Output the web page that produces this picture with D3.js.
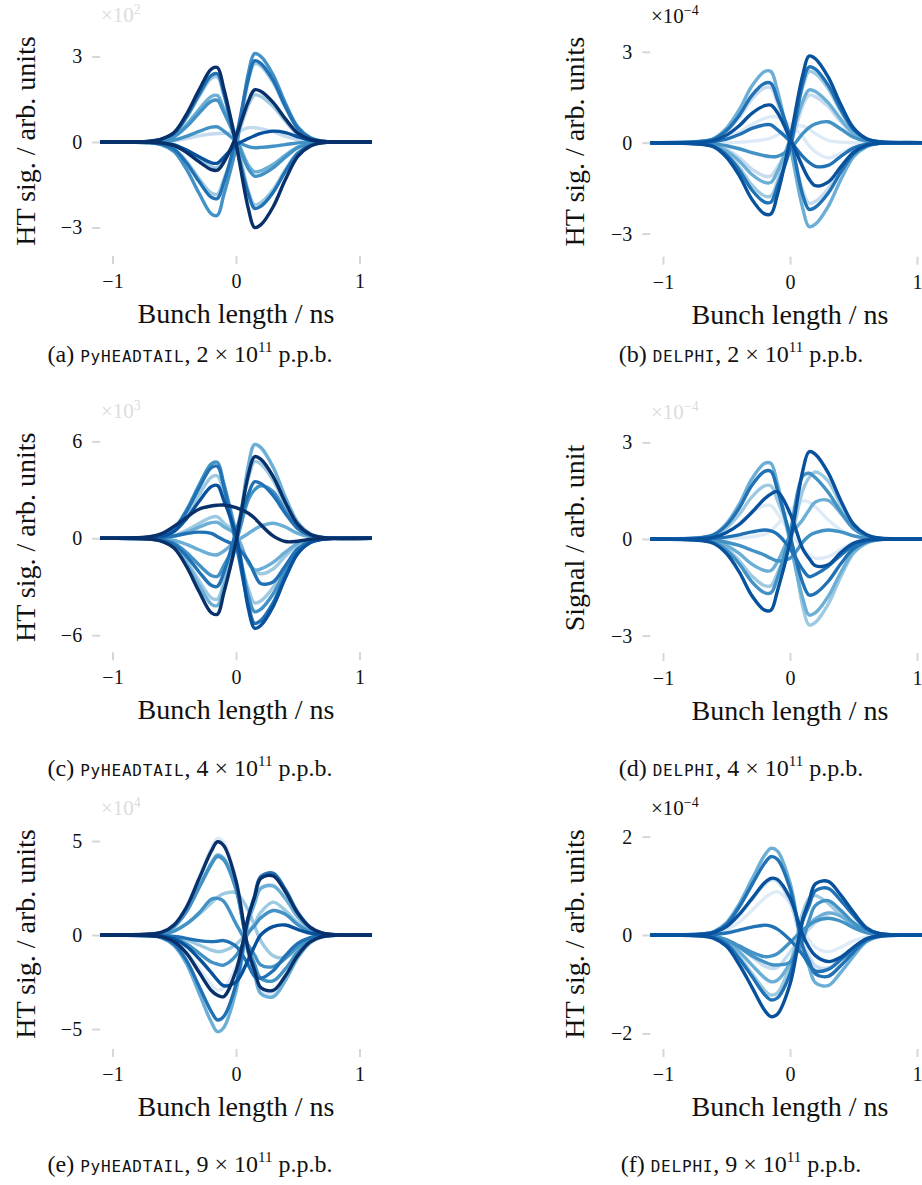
<!DOCTYPE html>
<html><head><meta charset="utf-8">
<script src="https://cdn.jsdelivr.net/npm/d3@7"></script>
<style>body{margin:0;background:#fff}svg{display:block}</style>
</head><body>
<svg id="chart" width="922" height="1185"></svg>
<script>
// ---------- DATA ----------
const X = [-1.1,-0.7,-0.6,-0.5,-0.4,-0.3,-0.2,-0.15,-0.1,0,0.1,0.15,0.2,0.3,0.4,0.5,0.6,0.7,1.1];
const xTicks = [-1,0,1];

// (a) PyHEADTAIL 2e11, units x10^2
const colorsA = ["#c6dbef","#9ecae1","#9ecae1","#9ecae1","#6baed6","#4292c6","#4292c6","#4292c6","#2171b5","#2171b5","#08519c","#08306b","#08306b"];
const valuesA = [
 [0,0,.01,.04,.12,.22,.28,.3,.3,.35,.5,.5,.47,.36,.2,.08,.02,0,0],
 [0,.02,.09,.3,.85,1.59,2.23,2.28,1.66,.15,-1.72,-2.2,-2.13,-1.67,-.97,-.37,-.11,-.02,0],
 [0,-.02,-.07,-.24,-.68,-1.28,-1.79,-1.83,-1.33,-.1,2.15,2.75,2.67,2.09,1.21,.47,.14,.03,0],
 [0,-.01,-.04,-.12,-.33,-.62,-.87,-.89,-.65,.1,1.29,1.65,1.6,1.25,.73,.28,.08,.02,0],
 [0,.02,.07,.21,.61,1.14,1.6,1.63,1.19,.2,-.81,-1.04,-1.01,-.79,-.46,-.18,-.05,-.01,0],
 [0,-.03,-.1,-.34,-.96,-1.79,-2.52,-2.57,-1.87,-.2,2.42,3.1,3.01,2.36,1.36,.53,.16,.03,0],
 [0,.01,.06,.19,.54,1.01,1.43,1.46,1.06,.1,-.94,-1.2,-1.16,-.91,-.53,-.2,-.06,-.01,0],
 [0,.01,.02,.07,.2,.37,.52,.53,.39,.05,-.16,-.2,-.19,-.15,-.09,-.03,-.01,0,0],
 [0,-.02,-.08,-.26,-.74,-1.38,-1.94,-1.98,-1.44,.15,2.22,2.85,2.76,2.17,1.25,.48,.14,.03,0],
 [0,.02,.1,.31,.89,1.66,2.34,2.39,1.74,-.1,-1.82,-2.33,-2.26,-1.77,-1.03,-.4,-.12,-.02,0],
 [0,-.01,-.03,-.1,-.28,-.52,-.73,-.74,-.54,-.1,.12,.22,.3,.38,.33,.18,.06,.01,0],
 [0,-.01,-.04,-.13,-.37,-.69,-.97,-.99,-.72,.2,1.43,1.83,1.78,1.39,.81,.31,.09,.02,0],
 [0,.03,.11,.34,.98,1.82,2.56,2.61,1.9,-.05,-2.34,-3.0,-2.91,-2.28,-1.32,-.51,-.15,-.03,0]
];
const ticksA = [-3,0,3];

// (b) DELPHI 2e11, units x10^-4
const colorsB = ["#deebf7","#deebf7","#c6dbef","#c6dbef","#9ecae1","#6baed6","#6baed6","#4292c6","#2171b5","#2171b5","#2171b5","#08519c","#08519c"];
const valuesB = [
 [0,.01,.04,.15,.35,.6,.8,.86,.84,.6,.2,-.1,-.3,-.5,-.35,-.14,-.04,-.01,0],
 [0,0,0,0,.02,.05,.1,.15,.25,.5,.55,.45,.3,.08,.02,0,0,0,0],
 [0,.04,.11,.37,.83,1.44,1.81,1.81,1.33,.1,-1.56,-2.0,-1.94,-1.52,-.88,-.34,-.1,-.02,0],
 [0,-.02,-.07,-.22,-.5,-.87,-1.1,-1.1,-.81,-.1,1.22,1.57,1.52,1.19,.69,.27,.08,.02,0],
 [0,-.04,-.11,-.36,-.81,-1.4,-1.76,-1.76,-1.3,.15,1.83,2.35,2.28,1.79,1.03,.4,.12,.02,0],
 [0,.05,.14,.48,1.08,1.87,2.35,2.35,1.73,-.1,-2.16,-2.77,-2.69,-2.11,-1.22,-.47,-.14,-.03,0],
 [0,-.03,-.08,-.27,-.6,-1.05,-1.31,-1.31,-.96,.1,1.36,1.74,1.69,1.32,.77,.3,.09,.02,0],
 [0,-.01,-.03,-.1,-.2,-.33,-.43,-.46,-.45,-.2,.3,.5,.62,.69,.45,.18,.05,.01,0],
 [0,.04,.12,.4,.9,1.56,1.96,1.96,1.44,.2,-1.72,-2.2,-2.13,-1.67,-.97,-.37,-.11,-.02,0],
 [0,-.04,-.12,-.4,-.9,-1.56,-1.96,-1.96,-1.44,-.2,1.95,2.5,2.43,1.9,1.1,.43,.13,.03,0],
 [0,.01,.04,.12,.27,.47,.59,.59,.43,.05,-.45,-.65,-.78,-.75,-.45,-.18,-.05,-.01,0],
 [0,.02,.07,.25,.56,.97,1.22,1.24,1.0,.15,-.8,-1.2,-1.42,-1.3,-.8,-.32,-.09,-.02,0],
 [0,-.05,-.14,-.48,-1.08,-1.87,-2.35,-2.35,-1.73,.1,2.23,2.86,2.77,2.17,1.26,.49,.14,.03,0]
];
const ticksB = [-3,0,3];

// (c) PyHEADTAIL 4e11, units x10^3
const colorsC = ["#9ecae1","#9ecae1","#9ecae1","#6baed6","#6baed6","#6baed6","#4292c6","#4292c6","#2171b5","#2171b5","#2171b5","#08519c","#08306b","#08306b"];
const valuesC = [
 [0,.01,.05,.17,.5,.92,1.3,1.33,.97,.2,-1.5,-1.95,-2.2,-1.9,-1.1,-.42,-.12,-.02,0],
 [0,.04,.16,.51,1.44,2.69,3.78,3.86,2.81,-.3,-3.12,-4.0,-3.88,-3.04,-1.76,-.68,-.2,-.04,0],
 [0,-.04,-.15,-.49,-1.41,-2.62,-3.69,-3.76,-2.74,.3,3.71,4.75,4.61,3.61,2.09,.81,.24,.05,0],
 [0,-.01,-.04,-.13,-.38,-.71,-1.0,-1.02,-.8,-.2,.3,.55,.75,.93,.7,.3,.09,.02,0],
 [0,-.04,-.17,-.55,-1.55,-2.9,-4.07,-4.16,-3.02,-.4,4.52,5.8,5.63,4.41,2.55,.99,.29,.06,0],
 [0,.01,.04,.13,.37,.69,.97,.99,.72,.2,-1.53,-1.96,-1.9,-1.49,-.86,-.33,-.1,-.02,0],
 [0,.05,.19,.62,1.76,3.28,4.61,4.7,3.42,.3,-3.54,-4.54,-4.4,-3.45,-2.0,-.77,-.23,-.05,0],
 [0,-.02,-.09,-.31,-.88,-1.64,-2.3,-2.35,-1.71,-.2,2.4,3.0,3.25,2.9,1.7,.65,.19,.04,0],
 [0,.05,.18,.59,1.67,3.11,4.37,4.46,3.24,-.3,-4.1,-5.26,-5.1,-4.0,-2.31,-.89,-.26,-.05,0],
 [0,-.03,-.12,-.39,-1.11,-2.07,-2.91,-2.97,-2.16,.4,2.73,3.5,3.4,2.66,1.54,.6,.18,.04,0],
 [0,.01,.05,.15,.3,.38,.3,.1,-.1,-.5,-1.4,-2.2,-2.8,-2.7,-1.7,-.65,-.2,-.04,0],
 [0,.03,.13,.43,1.22,2.28,3.2,3.27,2.38,.2,-4.34,-5.57,-5.4,-4.23,-2.45,-.95,-.28,-.06,0],
 [0,.1,.3,.75,1.3,1.8,2.0,2.05,2.06,1.9,1.55,1.25,.85,.15,-.2,-.18,-.07,-.02,0],
 [0,-.05,-.19,-.62,-1.76,-3.28,-4.61,-4.7,-3.42,-.2,3.94,5.05,4.9,3.84,2.22,.86,.25,.05,0]
];
const ticksC = [-6,0,6];

// (d) DELPHI 4e11, units x10^-4
const colorsD = ["#deebf7","#deebf7","#9ecae1","#9ecae1","#6baed6","#6baed6","#4292c6","#4292c6","#2171b5","#2171b5","#08519c","#08519c"];
const valuesD = [
 [0,.02,.06,.21,.48,.83,1.04,1.04,.8,.2,-.3,-.5,-.6,-.55,-.32,-.12,-.04,-.01,0],
 [0,0,0,.01,.03,.07,.15,.25,.45,.9,1.18,1.15,1.0,.6,.28,.1,.03,.01,0],
 [0,.03,.1,.34,.76,1.31,1.65,1.65,1.21,.15,-2.08,-2.67,-2.59,-2.03,-1.17,-.45,-.13,-.03,0],
 [0,-.03,-.09,-.3,-.67,-1.15,-1.45,-1.45,-1.07,-.1,1.5,1.9,2.08,1.8,1.05,.4,.12,.02,0],
 [0,.05,.14,.48,1.08,1.87,2.35,2.35,1.73,-.1,-1.84,-2.36,-2.29,-1.79,-1.04,-.4,-.12,-.02,0],
 [0,-.02,-.06,-.2,-.45,-.78,-.98,-.98,-.72,.1,.6,.9,1.15,1.2,.8,.32,.09,.02,0],
 [0,-.03,-.1,-.34,-.77,-1.33,-1.67,-1.67,-1.22,.2,1.95,2.04,1.9,1.45,.85,.33,.1,.02,0],
 [0,-.01,-.03,-.1,-.2,-.35,-.5,-.6,-.68,-.6,-.1,.1,.2,.28,.22,.1,.03,.01,0],
 [0,.04,.13,.43,.96,1.67,2.1,2.1,1.54,.1,-1.36,-1.74,-1.69,-1.32,-.77,-.3,-.09,-.02,0],
 [0,.01,.02,.06,.13,.22,.28,.25,.15,-.3,-.95,-1.17,-1.1,-.85,-.5,-.2,-.06,-.01,0],
 [0,.01,.05,.2,.45,.83,1.25,1.4,1.47,.8,-.3,-.6,-.83,-.8,-.42,-.13,-.03,-.01,0],
 [0,-.05,-.14,-.45,-1.02,-1.76,-2.21,-2.21,-1.63,-.1,2.11,2.71,2.63,2.06,1.19,.46,.14,.03,0]
];
const ticksD = [-3,0,3];

// (e) PyHEADTAIL 9e11, units x10^4
const colorsE = ["#deebf7","#deebf7","#9ecae1","#9ecae1","#6baed6","#6baed6","#4292c6","#4292c6","#4292c6","#2171b5","#2171b5","#08519c","#08306b","#08306b"];
const valuesE = [
 [0,.05,.15,.57,1.54,3.08,4.63,5.14,4.93,2.98,-.9,-1.98,-2.97,-3.14,-2.31,-1.16,-.4,-.1,0],
 [0,-.03,-.09,-.32,-.88,-1.76,-2.64,-2.93,-2.81,-1.7,.83,1.68,2.52,2.66,1.96,.98,.34,.08,0],
 [0,.02,.08,.25,.6,1.1,1.7,2.0,2.2,2.25,1.3,.5,-.3,-1.1,-1.2,-.7,-.25,-.06,0],
 [0,-.01,-.03,-.1,-.27,-.53,-.8,-.89,-.85,-.5,.2,.6,1.2,1.75,1.3,.65,.22,.05,0],
 [0,.04,.13,.47,1.28,2.56,3.83,4.26,4.09,2.47,-1.0,-2.08,-3.11,-3.29,-2.42,-1.21,-.42,-.1,0],
 [0,-.05,-.15,-.57,-1.54,-3.08,-4.63,-5.14,-4.93,-2.98,.7,1.65,2.48,2.61,1.93,.96,.33,.08,0],
 [0,.02,.06,.21,.59,1.17,1.9,1.95,1.8,.6,-.55,-1.06,-1.59,-1.68,-1.24,-.62,-.21,-.05,0],
 [0,-.02,-.05,-.18,-.48,-.96,-1.44,-1.55,-1.6,-1.1,.1,.5,.9,1.3,1.1,.55,.18,.04,0],
 [0,.04,.13,.46,1.25,2.5,3.75,4.17,4.0,2.42,-.69,-1.54,-2.31,-2.44,-1.8,-.9,-.31,-.08,0],
 [0,-.05,-.14,-.5,-1.36,-2.71,-4.07,-4.52,-4.34,-2.62,.98,2.08,3.11,3.29,2.42,1.21,.42,.1,0],
 [0,-.01,-.03,-.08,-.18,-.3,-.35,-.33,-.3,-.6,-1.6,-2.2,-2.3,-1.9,-1.1,-.45,-.14,-.03,0],
 [0,-.02,-.07,-.22,-.6,-1.25,-2.0,-2.4,-2.7,-2.5,-1.3,-.6,0,.45,.53,.3,.1,.02,0],
 [0,-.03,-.1,-.36,-.98,-1.97,-2.95,-3.2,-3.28,-1.9,.95,2.0,3.0,3.15,2.3,1.15,.4,.1,0],
 [0,.05,.15,.55,1.49,2.98,4.46,4.96,4.76,2.88,-.84,-1.86,-2.79,-2.95,-2.17,-1.09,-.37,-.09,0]
];
const ticksE = [-5,0,5];

// (f) DELPHI 9e11, units x10^-4
const colorsF = ["#deebf7","#c6dbef","#c6dbef","#9ecae1","#6baed6","#6baed6","#4292c6","#4292c6","#2171b5","#2171b5","#2171b5","#08519c","#08519c"];
const valuesF = [
 [0,.01,.03,.1,.26,.5,.75,.84,.88,.65,.15,-.1,-.25,-.34,-.25,-.12,-.04,-.01,0],
 [0,.01,.04,.16,.4,.72,1.03,1.12,1.09,.67,-.19,-.42,-.63,-.67,-.49,-.26,-.09,-.02,0],
 [0,-.01,-.03,-.1,-.24,-.44,-.63,-.68,-.66,-.35,0,.12,.25,.43,.45,.25,.08,.02,0],
 [0,-.01,-.05,-.17,-.44,-.78,-1.12,-1.22,-1.18,-.6,.45,.75,.8,.65,.4,.18,.06,.01,0],
 [0,.02,.07,.25,.63,1.13,1.62,1.76,1.71,1.06,-.29,-.65,-.97,-1.03,-.76,-.43,-.14,-.03,0],
 [0,-.01,-.04,-.13,-.34,-.61,-.87,-.95,-.92,-.57,.05,.2,.33,.45,.38,.2,.06,.01,0],
 [0,-.01,-.03,-.1,-.22,-.35,-.44,-.43,-.38,-.15,.1,.2,.28,.34,.28,.15,.05,.01,0],
 [0,-.01,-.03,-.1,-.25,-.42,-.55,-.6,-.61,-.55,-.1,.3,.6,.7,.5,.25,.08,.02,0],
 [0,.02,.06,.22,.57,1.02,1.46,1.59,1.54,.95,-.23,-.53,-.79,-.84,-.62,-.35,-.11,-.03,0],
 [0,-.01,-.05,-.18,-.48,-.84,-1.21,-1.32,-1.28,-.79,.28,.6,.9,.95,.7,.4,.13,.03,0],
 [0,0,.01,.04,.1,.16,.2,.18,.12,-.1,-.4,-.6,-.73,-.7,-.5,-.27,-.09,-.02,0],
 [0,.01,.05,.17,.42,.74,1.06,1.15,1.13,.75,0,-.25,-.42,-.54,-.45,-.25,-.08,-.02,0],
 [0,-.02,-.07,-.23,-.6,-1.06,-1.53,-1.66,-1.61,-1.0,.32,.69,1.04,1.09,.81,.46,.15,.03,0]
];
const ticksF = [-2,0,2];

const captionLetters = ["a","b","c","d","e","f"];
const codes = ["PyHEADTAIL","DELPHI","PyHEADTAIL","DELPHI","PyHEADTAIL","DELPHI"];
const intensities = ["2","2","4","4","9","9"];
const exponents = ["2","\u22124","3","\u22124","4","\u22124"];
const yLabels = ["HT sig. / arb. units","HT sig. / arb. units","HT sig. / arb. units","Signal / arb. unit","HT sig. / arb. units","HT sig. / arb. units"];
const xLabel = "Bunch length / ns";

// ---------- LAYOUT ----------
const cols = [
  {x0:236, ppn:123.5, capX:190, ylabX:35, multX:101},
  {x0:790, ppn:127,   capX:741, ylabX:584, multX:651}
];
const panels = [
  {values:valuesA, colors:colorsA, ticks:ticksA, col:0, y0:142,   ppu:28.5,  multColor:"#dcdcdc", capY:362},
  {values:valuesB, colors:colorsB, ticks:ticksB, col:1, y0:142.7, ppu:30.3,  multColor:"#111",    capY:362},
  {values:valuesC, colors:colorsC, ticks:ticksC, col:0, y0:538.3, ppu:16.15, multColor:"#dcdcdc", capY:776},
  {values:valuesD, colors:colorsD, ticks:ticksD, col:1, y0:539,   ppu:32.2,  multColor:"#dcdcdc", capY:776},
  {values:valuesE, colors:colorsE, ticks:ticksE, col:0, y0:935,   ppu:18.8,  multColor:"#dcdcdc", capY:1172},
  {values:valuesF, colors:colorsF, ticks:ticksF, col:1, y0:935,   ppu:49.2,  multColor:"#111",    capY:1172}
];

const serif = "'Liberation Serif','Times New Roman',serif";
const mono = "'DejaVu Sans Mono',monospace";
const fmt = v => (v < 0 ? "\u2212" + Math.abs(v) : String(v));
const svg = d3.select("#chart");
const xDomain = [-1.1, 1.1];

panels.forEach((p, k) => {
  const c = cols[p.col];
  const x = d3.scaleLinear().domain(xDomain).range([c.x0 + xDomain[0]*c.ppn, c.x0 + xDomain[1]*c.ppn]);
  const half = 100 / p.ppu;
  const y = d3.scaleLinear().domain([-half, half]).range([p.y0 + 100, p.y0 - 100]);
  const g = svg.append("g");

  // y axis
  const gy = g.append("g").attr("transform", `translate(${x.range()[0]},0)`)
    .call(d3.axisLeft(y).tickValues(p.ticks).tickSize(8).tickPadding(10).tickFormat(fmt));
  gy.attr("font-family", serif).attr("font-size", 20);
  gy.select(".domain").remove();
  gy.selectAll(".tick line").attr("stroke", "#d6d6d6").attr("stroke-width", 2);
  gy.selectAll(".tick text").attr("fill", "#111");

  // x axis
  const gx = g.append("g").attr("transform", `translate(0,${p.y0 + 114})`)
    .call(d3.axisBottom(x).tickValues(xTicks).tickSize(8).tickFormat(fmt));
  gx.attr("font-family", serif).attr("font-size", 20);
  gx.select(".domain").remove();
  gx.selectAll(".tick line").attr("stroke", "#d6d6d6").attr("stroke-width", 2);
  gx.selectAll(".tick text").attr("fill", "#111").attr("y", 32).attr("dy", null);

  // lines
  const line = d3.line().x((d, i) => x(X[i])).y(d => y(d)).curve(d3.curveCatmullRom.alpha(0.5));
  g.append("g").selectAll("path").data(p.values).join("path")
    .attr("d", line).attr("fill", "none")
    .attr("stroke", (d, i) => p.colors[i]).attr("stroke-width", 3.4)
    .attr("stroke-linejoin", "round");

  // multiplier
  const mt = g.append("text").attr("x", c.multX).attr("y", p.y0 - 120)
    .attr("font-family", serif).attr("font-size", 21).attr("fill", p.multColor);
  mt.append("tspan").text("\u00d710");
  mt.append("tspan").attr("dy", -8).attr("font-size", 14).text(exponents[k]);

  // y label
  g.append("text").attr("transform", `translate(${c.ylabX},${p.y0 - 1}) rotate(-90)`)
    .attr("text-anchor", "middle").attr("font-family", serif).attr("font-size", 28).attr("fill", "#111")
    .text(yLabels[k]);

  // x label
  g.append("text").attr("x", c.x0).attr("y", p.y0 + 181)
    .attr("text-anchor", "middle").attr("font-family", serif).attr("font-size", 28).attr("fill", "#111")
    .text(xLabel);

  // caption
  const cap = g.append("text").attr("x", c.capX).attr("y", p.capY)
    .attr("text-anchor", "middle").attr("font-family", serif).attr("font-size", 24).attr("fill", "#111");
  cap.append("tspan").text(`(${captionLetters[k]}) `);
  cap.append("tspan").attr("font-family", mono).attr("font-size", 16).attr("letter-spacing", 0.8).text(codes[k]);
  cap.append("tspan").text(`, ${intensities[k]} \u00d7 10`);
  cap.append("tspan").attr("dy", -10).attr("font-size", 15).text("11");
  cap.append("tspan").attr("dy", 10).text(" p.p.b.");
});
</script>
</body></html>
